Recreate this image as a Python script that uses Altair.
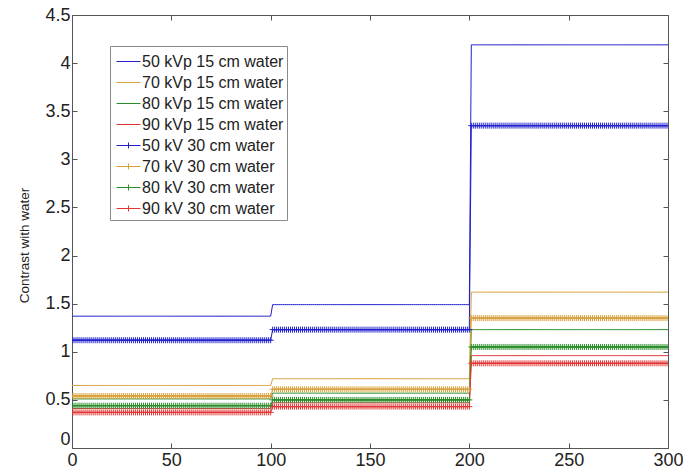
import bisect

import altair as alt
import pandas as pd

# Step breakpoints along the horizontal axis
x_breaks = [0, 100, 200, 300]
x_ticks = [0, 50, 100, 150, 200, 250, 300]
y_ticks = [0, 0.5, 1, 1.5, 2, 2.5, 3, 3.5, 4, 4.5]

series_names = [
    "50 kVp 15 cm water",
    "70 kVp 15 cm water",
    "80 kVp 15 cm water",
    "90 kVp 15 cm water",
    "50 kV 30 cm water",
    "70 kV 30 cm water",
    "80 kV 30 cm water",
    "90 kV 30 cm water",
]

# Contrast level on each of the three segments (0-100, 100-200, 200-300)
kvp50_15cm = [1.37, 1.49, 4.19]
kvp70_15cm = [0.65, 0.72, 1.62]
kvp80_15cm = [0.51, 0.57, 1.23]
kvp90_15cm = [0.41, 0.47, 0.96]
kv50_30cm = [1.12, 1.23, 3.35]
kv70_30cm = [0.54, 0.61, 1.35]
kv80_30cm = [0.44, 0.50, 1.05]
kv90_30cm = [0.37, 0.43, 0.88]

series_levels = [
    kvp50_15cm, kvp70_15cm, kvp80_15cm, kvp90_15cm,
    kv50_30cm, kv70_30cm, kv80_30cm, kv90_30cm,
]
marked = [False] * 4 + [True] * 4

colors = ["#2020cc", "#d9a03c", "#2a8c2a", "#e23636"] * 2

# one row per unit step in x, holding the level of the segment it falls in
rows = []
for name, levels, has_marker, col in zip(series_names, series_levels, marked, colors):
    for x in range(x_breaks[0], x_breaks[-1] + 1):
        seg = min(max(bisect.bisect_left(x_breaks, x) - 1, 0), len(levels) - 1)
        rows.append({"series": name, "x": x, "v": levels[seg], "marked": has_marker, "col": col})
df = pd.DataFrame(rows)
df_marked = df[df["marked"]]
df_legend = df[df["x"] == x_breaks[0]]

W, H = 596, 433
FONT = "Liberation Sans"
FRAME = "#555555"
TEXT = "#222222"

LINE_SYM = "M-1,0H1"
LINE_PLUS_SYM = "M-1,0H1M0,-0.25V0.25"
PLUS = "M-1,0H1M0,-1V1"

x_scale = alt.Scale(domain=[x_breaks[0], x_breaks[-1]], nice=False)
y_scale = alt.Scale(domain=[0, 4.5], nice=False)
color_scale = alt.Scale(domain=series_names, range=colors)
shape_scale = alt.Scale(domain=series_names, range=[LINE_SYM] * 4 + [LINE_PLUS_SYM] * 4)


def tick_axis(values, orient, offset):
    # inward-pointing tick marks, drawn from the opposite edge
    return alt.Axis(
        values=values, orient=orient, offset=offset, labels=False, domain=False,
        grid=False, ticks=True, tickSize=5, tickColor=FRAME, tickWidth=1, title=None,
    )


lines = alt.Chart(df).mark_line(strokeWidth=1, clip=True).encode(
    x=alt.X(
        "x:Q", scale=x_scale,
        axis=alt.Axis(
            values=x_ticks, orient="bottom", ticks=False, tickSize=0, domain=False,
            grid=False, title=None, labelFont=FONT, labelFontSize=18,
            labelColor=TEXT, labelPadding=3, labelFlush=False, format="d",
        ),
    ),
    y=alt.Y(
        "v:Q", scale=y_scale,
        axis=alt.Axis(
            values=y_ticks, orient="left", ticks=False, tickSize=0, domain=False,
            grid=False, title="Contrast with water", titleFont=FONT,
            titleFontSize=13.5, titleFontWeight="normal", titleColor=TEXT,
            titleX=-41, titleY=230, titleBaseline="bottom", titleAngle=270,
            labelFont=FONT, labelFontSize=18, labelColor=TEXT, labelPadding=2,
            format="~g",
            labelBaseline={"condition": {"test": "datum.value === 0", "value": "bottom"},
                           "value": "middle"},
        ),
    ),
    color=alt.Color("col:N", scale=None),
    detail="series:N",
)

markers = alt.Chart(df_marked).mark_point(
    shape=PLUS, size=36, filled=False, strokeWidth=1, opacity=1, clip=True
).encode(
    x=alt.X("x:Q", scale=x_scale, axis=tick_axis(x_ticks, "top", -H)),
    y=alt.Y("v:Q", scale=y_scale, axis=tick_axis(y_ticks, "right", -W)),
    color=alt.Color("col:N", scale=None),
)

legend = alt.Legend(
    title=None, orient="none", legendX=38, legendY=31,
    fillColor="white", strokeColor="#8a8a8a", padding=3,
    labelFont=FONT, labelFontSize=16, labelColor=TEXT, labelOffset=1,
    symbolSize=576, symbolStrokeWidth=1, symbolOpacity=1, symbolOffset=3,
    rowPadding=-0.7,
)

legend_layer = alt.Chart(df_legend).mark_point(filled=False, opacity=0).encode(
    x=alt.X("x:Q", scale=x_scale, axis=tick_axis(x_ticks, "bottom", -H)),
    y=alt.Y("v:Q", scale=y_scale, axis=tick_axis(y_ticks, "left", -W)),
    color=alt.Color("series:N", scale=color_scale, sort=series_names, legend=legend),
    shape=alt.Shape("series:N", scale=shape_scale, sort=series_names, legend=legend),
)

chart = (
    alt.layer(lines, markers, legend_layer)
    .resolve_scale(x="shared", y="shared")
    .resolve_axis(x="independent", y="independent")
    .properties(
        width=W, height=H,
        autosize=alt.AutoSizeParams(type="none"),
        padding={"left": 72, "top": 15, "right": 15, "bottom": 23},
        background="white",
    )
    .configure_view(stroke=FRAME, strokeWidth=1)
)

chart.save("out.html", embed_options={"renderer": "svg", "actions": False})
